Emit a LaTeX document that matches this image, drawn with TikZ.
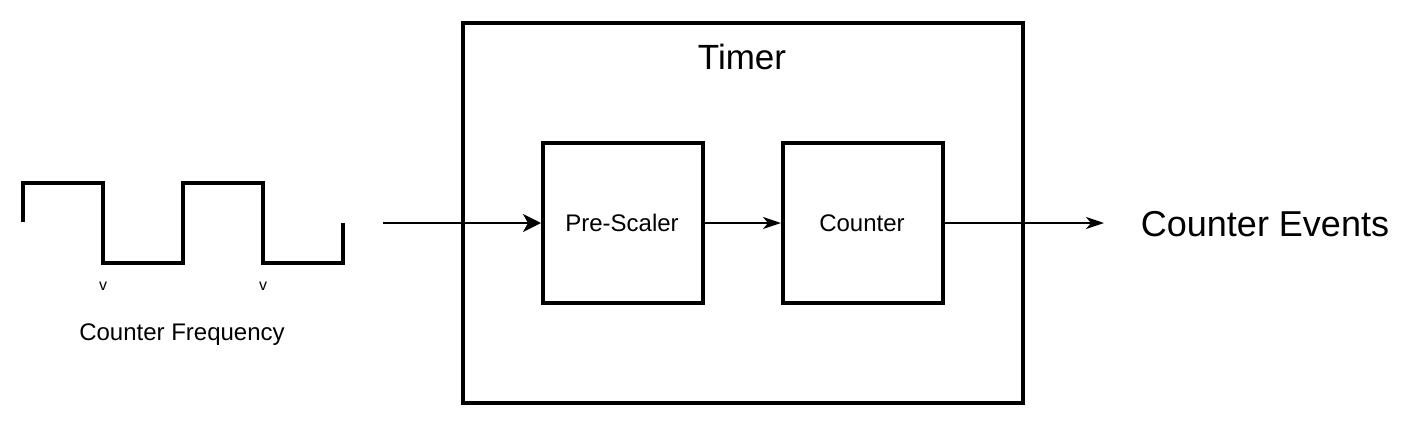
\documentclass[tikz,border=0pt]{standalone}
\usepackage{fontspec}
\setmainfont{Liberation Sans}
\usetikzlibrary{arrows.meta}
\tikzset{
  blk/.style={draw=black, line width=4pt, minimum width=160pt, minimum height=160pt, inner sep=0pt},
  outer/.style={draw=black, line width=4pt, minimum width=560pt, minimum height=380pt, inner sep=0pt},
  wave/.style={draw=black, line width=4pt, line cap=butt, line join=miter},
  conn/.style={draw=black, line width=2pt},
  bigtip/.style={-{Stealth[length=18pt,width=18pt,inset=5pt]}},
  smalltip/.style={-{Stealth[length=18pt,width=12pt,inset=5pt]}},
  lbl/.style={inner sep=0pt, anchor=base, font=\fontsize{24pt}{28pt}\selectfont},
  biglbl/.style={inner sep=0pt, anchor=base, font=\fontsize{36pt}{42pt}\selectfont},
  tinylbl/.style={inner sep=0pt, anchor=base, font=\fontsize{16pt}{18pt}\selectfont}
}
\begin{document}
\begin{tikzpicture}[x=1pt,y=-1pt]
\useasboundingbox (0,0) rectangle (1408,424);
\fill[white] (0,0) rectangle (1408,424);
% timer box
\node[outer] (timer) at (743,213) {};
\node[biglbl, font=\fontsize{35pt}{42pt}\selectfont] (timerlbl) at (742,69) {Timer};
% inner blocks
\node[blk] (pre) at (623,223) {};
\node[lbl] (prelbl) at (622,231) {Pre-Scaler};
\node[blk] (cnt) at (863,223) {};
\node[lbl] (cntlbl) at (862,231) {Counter};
% square wave
\draw[wave] (23,222) -- (23,183) -- (103,183) -- (103,263) -- (183,263) -- (183,183) -- (263,183) -- (263,263) -- (343,263) -- (343,223);
\node[tinylbl] (v1) at (103,290) {v};
\node[tinylbl] (v2) at (263,290) {v};
\node[lbl] (freq) at (182,340) {Counter Frequency};
% connectors
\coordinate (in) at (383,223);
\coordinate (out) at (1104,223);
\draw[conn, bigtip] (in) -- (pre.west);
\draw[conn, smalltip] (pre.east) -- (cnt.west);
\draw[conn, smalltip] (cnt.east) -- (out);
\node[biglbl] (events) at (1265,236) {Counter Events};
\end{tikzpicture}
\end{document}
